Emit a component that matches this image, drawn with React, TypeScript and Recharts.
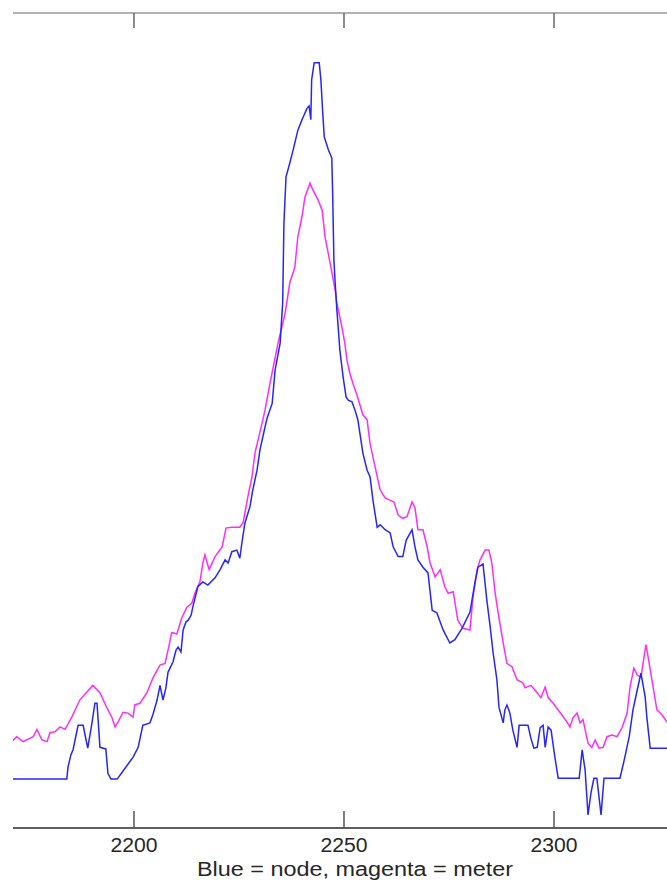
import { Line, LineChart, XAxis, YAxis } from "recharts";

// node trace (blue)
const nodeX = [
  2170.0, 2184.0, 2184.3, 2185.0, 2185.5, 2186.7, 2187.9, 2188.6, 2189.0, 2190.0,
  2190.7, 2191.2, 2191.9, 2193.3, 2193.8, 2194.5, 2196.0, 2197.4, 2199.8, 2201.0,
  2202.1, 2203.8, 2204.5, 2205.5, 2206.2, 2206.9, 2207.6, 2208.1, 2209.3, 2210.0,
  2210.5, 2211.2, 2211.7, 2212.4, 2212.9, 2213.6, 2214.0, 2215.2, 2216.4, 2217.6,
  2219.3, 2220.5, 2221.7, 2222.4, 2223.3, 2224.5, 2225.2, 2225.7, 2226.4, 2227.6,
  2228.3, 2229.3, 2230.0, 2231.2, 2231.7, 2232.9, 2233.6, 2234.8, 2235.4, 2235.7,
  2236.2, 2237.1, 2237.9, 2239.0, 2240.0, 2241.2, 2241.7, 2242.1, 2242.3, 2242.9,
  2244.1, 2244.5, 2244.9, 2245.3, 2246.3, 2247.1, 2247.3, 2247.6, 2247.9, 2248.3,
  2248.8, 2249.0, 2249.8, 2250.5, 2251.0, 2251.9, 2252.6, 2253.3, 2254.5, 2255.5,
  2256.2, 2256.9, 2257.9, 2258.6, 2259.8, 2261.0, 2261.7, 2262.9, 2264.0, 2264.8,
  2266.2, 2266.9, 2267.6, 2268.8, 2270.0, 2271.0, 2272.1, 2273.6, 2275.2, 2276.4,
  2278.1, 2280.0, 2281.2, 2281.9, 2283.1, 2284.0, 2284.8, 2285.5, 2286.4, 2286.9,
  2287.9, 2288.3, 2288.8, 2289.5, 2290.2, 2291.2, 2291.7, 2293.8, 2294.5, 2295.2,
  2296.0, 2296.7, 2297.4, 2297.9, 2298.6, 2299.3, 2300.2, 2301.0, 2306.0, 2306.7,
  2307.4, 2308.1, 2308.8, 2309.5, 2310.2, 2311.2, 2311.9, 2315.7, 2316.7, 2317.9,
  2318.8, 2319.8, 2320.7, 2321.7, 2322.1, 2322.9, 2328.0,
];
const nodeY = [
  6.0, 6.0, 7.5, 9.0, 9.6, 12.6, 12.6, 10.8, 9.8, 12.9,
  15.3, 15.3, 9.9, 9.7, 6.7, 6.0, 6.0, 7.0, 8.7, 9.9,
  12.6, 12.9, 13.9, 15.7, 17.5, 15.7, 17.2, 19.1, 20.4, 21.8,
  22.2, 21.6, 24.3, 25.3, 25.5, 26.1, 27.1, 29.6, 30.2, 29.8,
  30.7, 31.7, 32.9, 32.5, 33.9, 34.1, 33.1, 35.0, 37.4, 39.4,
  41.5, 43.9, 46.4, 49.2, 50.3, 52.1, 56.2, 59.5, 64.4, 74.2,
  79.9, 81.6, 83.2, 85.6, 86.9, 88.3, 88.6, 86.9, 91.8, 93.9,
  93.9, 91.8, 88.1, 84.8, 83.2, 82.2, 77.9, 69.7, 66.9, 63.6,
  60.2, 58.7, 55.3, 52.9, 52.5, 52.3, 51.3, 50.1, 46.0, 43.9,
  43.1, 40.2, 36.9, 37.2, 36.6, 36.2, 34.5, 33.3, 33.3, 35.3,
  36.6, 34.5, 32.9, 32.0, 31.3, 26.7, 26.4, 24.3, 22.7, 23.1,
  24.5, 26.5, 30.2, 32.0, 32.4, 28.0, 24.7, 21.5, 18.2, 14.8,
  12.9, 14.5, 15.1, 14.1, 12.0, 9.9, 12.6, 12.6, 11.0, 9.8,
  9.9, 12.3, 12.6, 9.9, 12.4, 12.0, 8.7, 6.1, 6.1, 9.6,
  7.1, 1.6, 4.3, 6.1, 6.1, 1.6, 6.1, 6.1, 8.3, 11.2,
  14.5, 16.9, 19.0, 16.1, 13.6, 9.8, 9.8,
];

// meter trace (magenta)
const meterX = [
  2170.5, 2172.1, 2173.6, 2176.0, 2176.9, 2178.1, 2179.3, 2180.0, 2181.2, 2182.4,
  2183.6, 2185.2, 2187.1, 2188.8, 2190.2, 2191.9, 2193.6, 2194.8, 2195.5, 2196.2,
  2197.4, 2198.6, 2199.8, 2200.2, 2201.4, 2203.1, 2204.5, 2206.2, 2207.4, 2208.1,
  2209.0, 2210.2, 2211.4, 2212.6, 2213.8, 2214.5, 2215.7, 2216.4, 2216.9, 2217.9,
  2219.3, 2221.0, 2221.9, 2223.3, 2224.5, 2225.2, 2226.0, 2227.1, 2228.1, 2228.8,
  2230.0, 2230.7, 2231.2, 2232.4, 2234.3, 2236.0, 2237.1, 2238.3, 2239.0, 2240.0,
  2240.7, 2241.9, 2242.6, 2243.8, 2244.8, 2245.5, 2246.7, 2247.9, 2248.3, 2249.0,
  2249.5, 2250.2, 2250.7, 2251.4, 2252.1, 2253.1, 2254.5, 2255.5, 2256.2, 2257.4,
  2258.6, 2259.8, 2261.0, 2261.9, 2262.9, 2264.0, 2265.0, 2266.2, 2266.9, 2267.6,
  2268.8, 2269.8, 2270.5, 2271.7, 2272.9, 2274.0, 2274.8, 2276.0, 2277.1, 2278.3,
  2280.0, 2280.7, 2281.7, 2282.4, 2283.6, 2284.5, 2285.2, 2286.0, 2286.7, 2287.9,
  2288.8, 2290.0, 2291.2, 2292.6, 2293.1, 2294.5, 2296.0, 2296.9, 2297.9, 2298.6,
  2299.8, 2301.4, 2303.1, 2303.8, 2304.5, 2305.5, 2306.2, 2306.9, 2308.1, 2309.0,
  2309.8, 2310.7, 2311.7, 2312.6, 2313.8, 2315.0, 2316.2, 2317.4, 2318.1, 2319.0,
  2319.8, 2320.7, 2321.2, 2321.9, 2322.4, 2323.3, 2324.5, 2325.7, 2326.9, 2328.0,
];
const meterY = [
  10.4, 11.2, 10.6, 11.2, 12.1, 10.8, 10.6, 11.7, 11.8, 12.4,
  12.1, 13.6, 15.7, 16.7, 17.5, 16.6, 14.7, 13.5, 12.4, 13.0,
  14.2, 14.1, 13.6, 15.1, 15.3, 16.6, 18.4, 20.0, 20.2, 21.8,
  24.0, 23.8, 25.8, 27.1, 27.6, 28.8, 30.2, 32.5, 33.5, 31.7,
  33.3, 34.5, 36.8, 36.9, 36.9, 36.9, 37.5, 40.6, 43.1, 46.0,
  48.6, 50.1, 51.3, 54.6, 59.5, 63.2, 66.9, 68.8, 72.5, 75.0,
  77.4, 79.1, 78.3, 77.1, 75.8, 72.5, 69.3, 66.0, 64.4, 62.7,
  61.5, 59.5, 57.4, 55.8, 54.6, 53.1, 50.7, 50.1, 47.2, 44.3,
  41.5, 40.5, 40.2, 40.0, 38.4, 38.0, 38.2, 40.0, 39.3, 36.6,
  36.6, 34.5, 32.5, 30.8, 31.7, 29.6, 28.8, 29.0, 25.5, 24.5,
  24.3, 28.3, 31.7, 32.9, 34.1, 34.1, 32.5, 28.8, 26.4, 22.7,
  20.2, 19.8, 18.2, 17.8, 17.2, 17.5, 16.6, 16.0, 17.3, 16.0,
  15.3, 14.2, 13.0, 12.4, 13.5, 14.1, 12.9, 13.3, 10.4, 9.9,
  10.8, 9.8, 9.9, 11.2, 11.4, 11.2, 12.3, 14.1, 17.3, 19.6,
  18.8, 18.5, 20.2, 22.5, 21.0, 18.2, 14.5, 13.9, 13.0, 12.6,
];

const xTicks = [2200, 2250, 2300];
const xDomain = [2171.2, 2326.9];
const yDomain = [0, 100];

type Row = { x: number; node?: number; meter?: number };

const rows: Row[] = [
  ...nodeX.map((x, i) => ({ x, node: nodeY[i] })),
  ...meterX.map((x, i) => ({ x, meter: meterY[i] })),
].sort((a, b) => a.x - b.x);

const FONT = '"Liberation Sans", Arial, sans-serif';

// MATLAB-style ticks point into the axes
function BottomTick(props: any) {
  const { x, y, payload } = props;
  return (
    <g>
      <line x1={x} x2={x} y1={y - 17} y2={y} stroke="#555" strokeWidth={1.5} />
      <text
        x={x}
        y={y + 24}
        textAnchor="middle"
        fontFamily={FONT}
        fontSize={20}
        fill="#262626"
        textLength={47}
        lengthAdjust="spacingAndGlyphs"
      >
        {payload.value}
      </text>
    </g>
  );
}

function TopTick(props: any) {
  const { x, y } = props;
  return <line x1={x} x2={x} y1={y} y2={y + 15} stroke="#666" strokeWidth={1.5} />;
}

function AxisTitle() {
  return (
    <text
      x={355}
      y={876}
      textAnchor="middle"
      fontFamily={FONT}
      fontSize={20}
      fill="#262626"
      textLength={316}
      lengthAdjust="spacingAndGlyphs"
    >
      Blue = node, magenta = meter
    </text>
  );
}

export default function App() {
  return (
    <div
      style={{
        position: "absolute",
        left: 0,
        top: 0,
        width: 667,
        height: 882,
        overflow: "hidden",
        background: "#fff",
      }}
    >
      <LineChart
        width={667}
        height={882}
        data={rows}
        margin={{ top: 0, right: 0, bottom: 0, left: 13 }}
      >
        <XAxis
          xAxisId="bottom"
          dataKey="x"
          type="number"
          domain={xDomain}
          allowDataOverflow
          ticks={xTicks}
          height={54}
          tickSize={0}
          tickMargin={0}
          tickLine={false}
          axisLine={{ stroke: "#2b2b2b", strokeWidth: 1.5 }}
          tick={<BottomTick />}
          label={{ content: () => <AxisTitle /> }}
        />
        <XAxis
          xAxisId="top"
          orientation="top"
          dataKey="x"
          type="number"
          domain={xDomain}
          allowDataOverflow
          ticks={xTicks}
          height={13}
          tickSize={0}
          tickMargin={0}
          tickLine={false}
          axisLine={{ stroke: "#9a9a9a", strokeWidth: 1.5 }}
          tick={<TopTick />}
        />
        <YAxis hide type="number" domain={yDomain} allowDataOverflow />
        <Line
          xAxisId="bottom"
          type="linear"
          dataKey="meter"
          stroke="#ff2bff"
          strokeWidth={1.5}
          dot={false}
          connectNulls
          isAnimationActive={false}
        />
        <Line
          xAxisId="bottom"
          type="linear"
          dataKey="node"
          stroke="#2525ff"
          strokeWidth={1.5}
          dot={false}
          connectNulls
          isAnimationActive={false}
        />
      </LineChart>
    </div>
  );
}
